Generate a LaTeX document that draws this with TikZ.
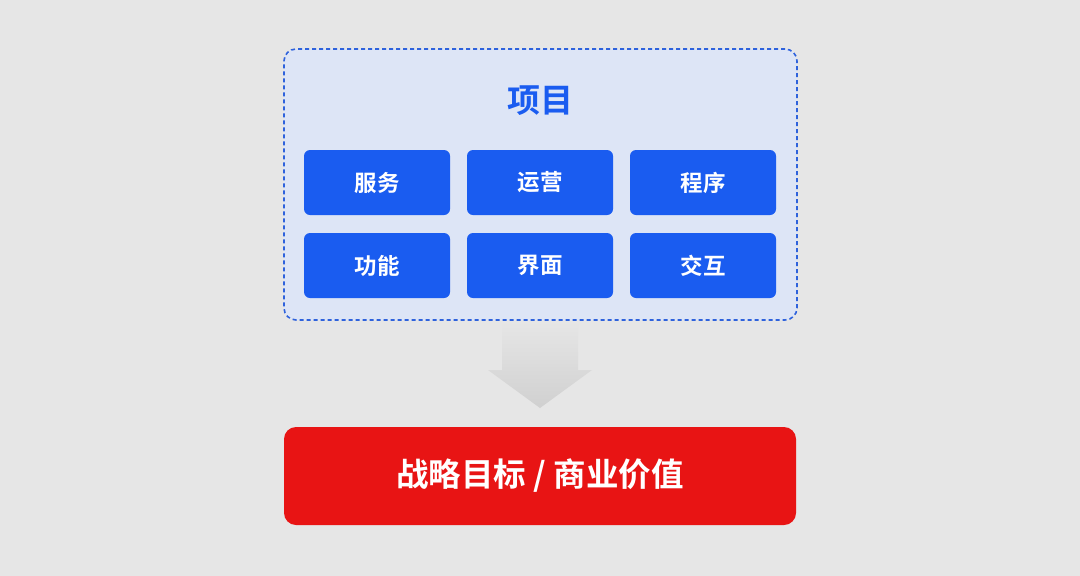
\documentclass[tikz,border=0pt]{standalone}
\usepackage{fontspec}
\setmainfont{Noto Sans CJK SC}[BoldFont={Noto Sans CJK SC Bold}]
\definecolor{bggray}{HTML}{E6E6E6}
\definecolor{panelblue}{HTML}{DDE5F6}
\definecolor{edgeblue}{HTML}{2E62DC}
\definecolor{itemblue}{HTML}{1A5CF0}
\definecolor{goalred}{HTML}{E81414}
\definecolor{arrowgray}{HTML}{D0D0D0}
\begin{document}
\begin{tikzpicture}[x=1pt,y=-1pt,
  item/.style={fill=itemblue,rounded corners=6pt,minimum width=146pt,minimum height=65pt,inner sep=0pt,text=white,font=\bfseries\fontsize{22.5}{22.5}\selectfont}]
\fill[bggray] (0,0) rectangle (1080,576);

\node[draw=edgeblue,fill=panelblue,dash pattern=on 4pt off 3pt,line width=1.6pt,rounded corners=12pt,minimum width=513pt,minimum height=271pt,inner sep=0pt] (panel) at (540.5,184.5) {};
\node[text=itemblue,font=\bfseries\fontsize{33}{33}\selectfont] (title) at (540,101) {项目};

\node[item] (serve) at (377,182.5) {服务};
\node[item] (ops) at (540,182.5) {运营};
\node[item] (prog) at (703,182.5) {程序};
\node[item] (func) at (377,265.5) {功能};
\node[item] (ui) at (540,265.5) {界面};
\node[item] (inter) at (703,265.5) {交互};

\shade[top color=bggray,bottom color=arrowgray] (502,322) -- (578,322) -- (578,370) -- (592,370) -- (540,408) -- (488,370) -- (502,370) -- cycle;

\node[fill=goalred,rounded corners=12pt,minimum width=512pt,minimum height=98pt,inner sep=0pt,text=white,font=\bfseries\fontsize{32.5}{32.5}\selectfont] (goal) at (540,476) {战略目标 / 商业价值};
\end{tikzpicture}
\end{document}
